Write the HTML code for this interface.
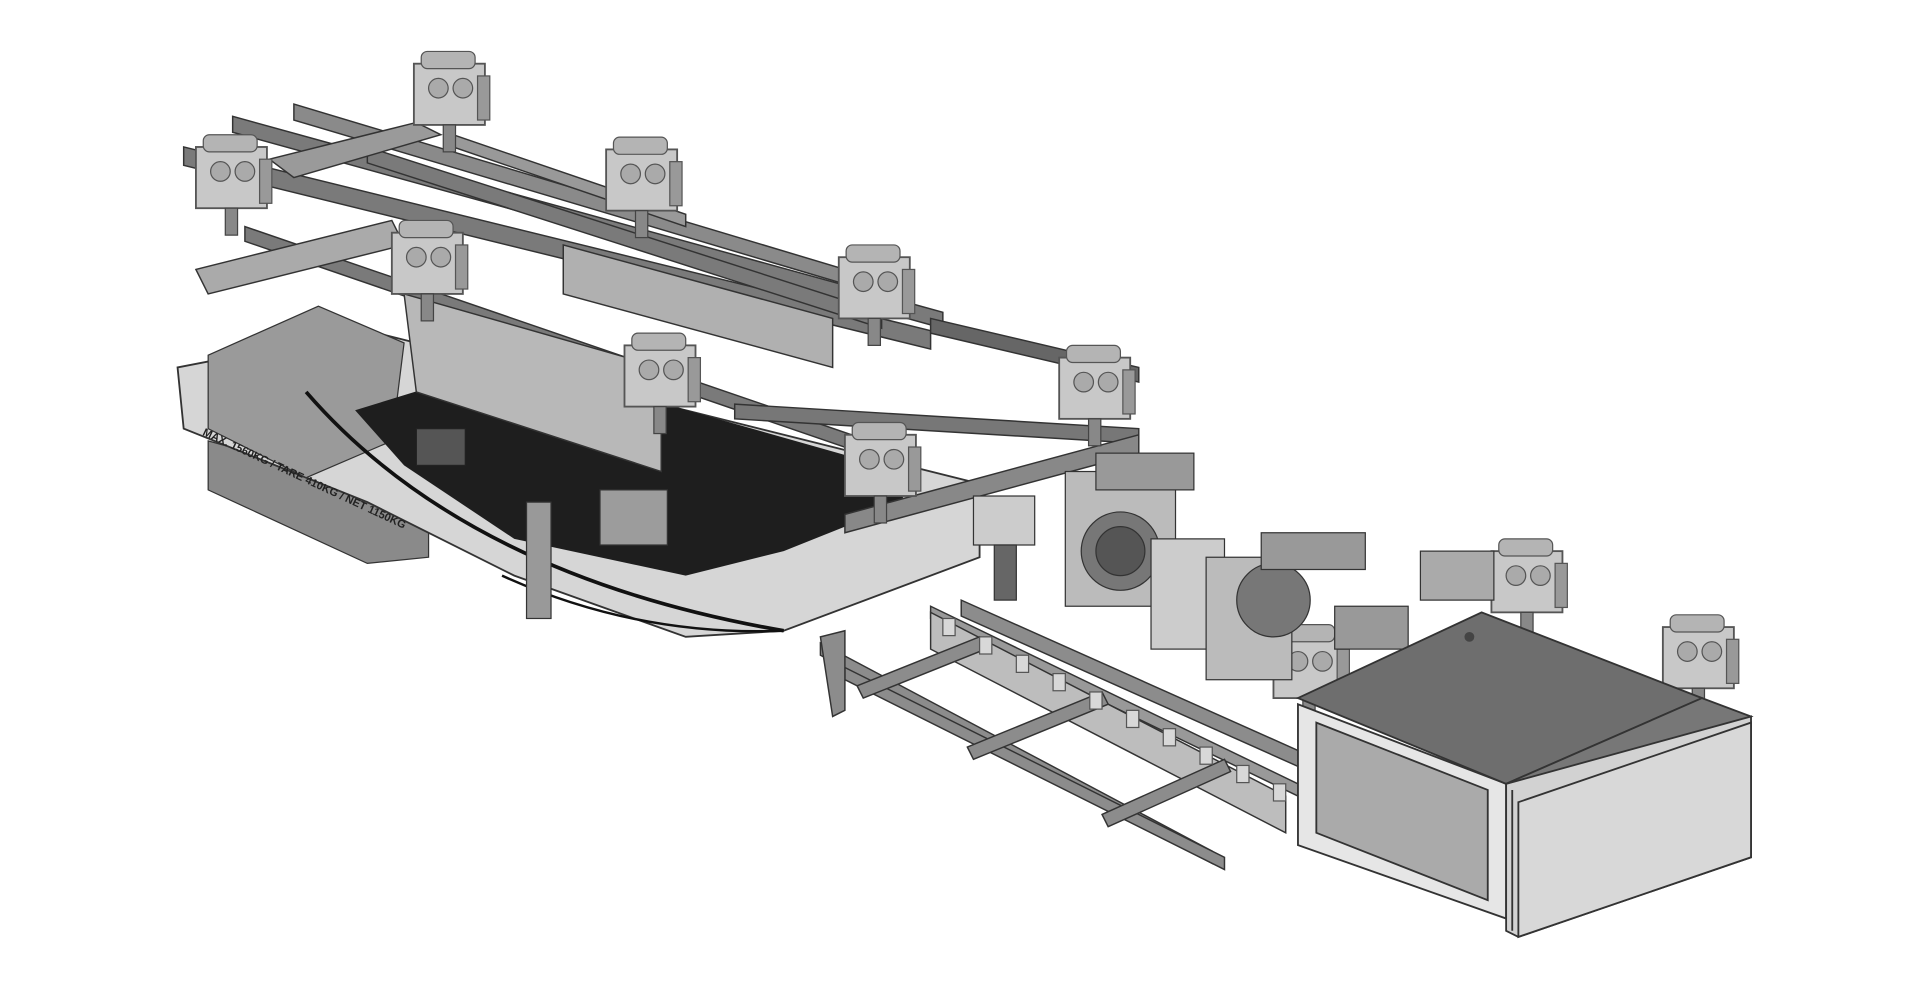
<!DOCTYPE html><html><head><style>html,body{margin:0;padding:0;background:#fff}svg{display:block}</style></head><body>
<svg width="1920" height="981" viewBox="0 0 1568 801" preserveAspectRatio="none" xmlns="http://www.w3.org/2000/svg">
<rect width="1568" height="801" fill="#fff"/>
<defs>
<g id="u"><rect x="0" y="0" width="58" height="50" fill="#c8c8c8" stroke="#555" stroke-width="1.5"/><rect x="6" y="-10" width="44" height="14" rx="5" fill="#b4b4b4" stroke="#555"/><circle cx="20" cy="20" r="8" fill="#aaa" stroke="#555"/><circle cx="40" cy="20" r="8" fill="#aaa" stroke="#555"/><rect x="24" y="50" width="10" height="22" fill="#888" stroke="#444"/><rect x="52" y="10" width="10" height="36" fill="#999" stroke="#555"/></g>
</defs>
<!-- left pallet block -->
<polygon points="170,360 350,410 350,455 300,460 170,400" fill="#8a8a8a" stroke="#333"/>
<!-- hull -->
<polygon points="145,300 300,270 800,395 800,455 640,515 560,520 420,470 300,410 150,350" fill="#d6d6d6" stroke="#333" stroke-width="1.5"/>
<polygon points="170,290 260,250 330,280 320,360 250,390 170,350" fill="#9a9a9a" stroke="#333"/>
<polygon points="290,335 420,295 720,380 740,410 640,450 560,470 420,440 330,380" fill="#1e1e1e"/>
<path d="M250,320 Q380,470 640,515" stroke="#111" stroke-width="3" fill="none"/>
<path d="M410,470 Q520,520 640,515" stroke="#111" stroke-width="2" fill="none"/>
<text x="165" y="355" font-family="Liberation Sans, sans-serif" font-size="9" font-weight="bold" fill="#222" transform="rotate(25 165 355)">MAX. 1560KG / TARE 410KG / NET 1150KG</text>
<rect x="340" y="350" width="40" height="30" fill="#555" stroke="#222"/>
<rect x="490" y="400" width="55" height="45" fill="#9c9c9c" stroke="#333"/>
<rect x="430" y="410" width="20" height="95" fill="#999" stroke="#333"/>
<!-- upper frame bars -->
<g stroke="#333" stroke-width="1.2" fill="#7a7a7a">
<polygon points="150,120 760,270 760,285 150,135"/>
<polygon points="190,95 770,255 770,268 190,108"/>
<polygon points="240,85 690,220 690,232 240,98" fill="#8a8a8a"/>
<polygon points="300,120 720,255 720,268 300,133"/>
<polygon points="370,110 560,175 560,185 370,120" fill="#999"/>
<polygon points="200,185 710,360 710,372 200,197"/>
<polygon points="160,220 320,180 330,200 170,240" fill="#aaa"/>
<polygon points="330,240 540,300 540,385 340,320" fill="#b8b8b8"/>
<polygon points="600,330 930,350 930,362 600,342" fill="#777"/>
<polygon points="690,420 930,355 930,370 690,435" fill="#888"/>
<polygon points="760,260 930,300 930,312 760,272" fill="#666"/>
<polygon points="220,130 340,100 360,110 240,145" fill="#9a9a9a"/>
<polygon points="460,200 680,260 680,300 460,240" fill="#b0b0b0"/>
</g>
<!-- units -->
<use href="#u" x="338" y="52"/><use href="#u" x="160" y="120"/><use href="#u" x="495" y="122"/>
<use href="#u" x="320" y="190"/><use href="#u" x="685" y="210"/><use href="#u" x="510" y="282"/>
<use href="#u" x="865" y="292"/><use href="#u" x="690" y="355"/>
<use href="#u" x="1218" y="450"/><use href="#u" x="1358" y="512"/><use href="#u" x="1184" y="587"/>
<use href="#u" x="1040" y="520"/>
<!-- motor modules -->
<g stroke="#333">
<rect x="870" y="385" width="90" height="110" fill="#bbb"/>
<circle cx="915" cy="450" r="32" fill="#777"/><circle cx="915" cy="450" r="20" fill="#555"/>
<rect x="895" y="370" width="80" height="30" fill="#999"/>
<rect x="940" y="440" width="60" height="90" fill="#ccc"/>
<rect x="985" y="455" width="70" height="100" fill="#bbb"/>
<circle cx="1040" cy="490" r="30" fill="#777"/>
<rect x="1030" y="435" width="85" height="30" fill="#999"/>
<rect x="1090" y="495" width="60" height="35" fill="#999"/>
<rect x="795" y="405" width="50" height="40" fill="#ccc"/>
<rect x="812" y="445" width="18" height="45" fill="#666"/>
<rect x="1160" y="450" width="60" height="40" fill="#aaa"/>
</g>
<!-- rails -->
<g stroke="#333" stroke-width="1.2" fill="#8c8c8c">
<polygon points="670,525 990,695 990,705 670,535"/>
<polygon points="690,545 1000,700 1000,710 690,555"/>
<polygon points="760,495 1060,640 1060,650 760,505" fill="#999"/>
<polygon points="785,490 1065,615 1065,628 785,503"/>
<polygon points="760,500 1050,650 1050,680 760,530" fill="#bdbdbd"/>
<polygon points="700,560 800,520 805,530 705,570"/>
<polygon points="790,610 900,565 905,575 795,620"/>
<polygon points="900,665 1000,620 1005,630 905,675"/>
<polygon points="670,520 690,515 690,580 680,585"/>
</g>
<g fill="#d8d8d8" stroke="#555">
<rect x="770" y="505" width="10" height="14"/><rect x="800" y="520" width="10" height="14"/><rect x="830" y="535" width="10" height="14"/><rect x="860" y="550" width="10" height="14"/><rect x="890" y="565" width="10" height="14"/><rect x="920" y="580" width="10" height="14"/><rect x="950" y="595" width="10" height="14"/><rect x="980" y="610" width="10" height="14"/><rect x="1010" y="625" width="10" height="14"/><rect x="1040" y="640" width="10" height="14"/>
</g>
<!-- right box -->
<g stroke="#333" stroke-width="1.5">
<polygon points="1060,575 1230,640 1230,750 1060,690" fill="#e6e6e6"/>
<polygon points="1075,590 1215,645 1215,735 1075,680" fill="#aaa"/>
<polygon points="1060,570 1210,500 1390,570 1230,640" fill="#6e6e6e"/>
<polygon points="1230,640 1390,570 1430,585 1250,655" fill="#777"/>
<polygon points="1230,640 1430,585 1430,700 1240,765 1230,760" fill="#d2d2d2"/>
<polygon points="1240,655 1430,590 1430,700 1240,765" fill="#d8d8d8"/>
<line x1="1235" y1="645" x2="1235" y2="760"/>
</g>
<circle cx="1200" cy="520" r="4" fill="#444"/>
</svg>
</body></html>
